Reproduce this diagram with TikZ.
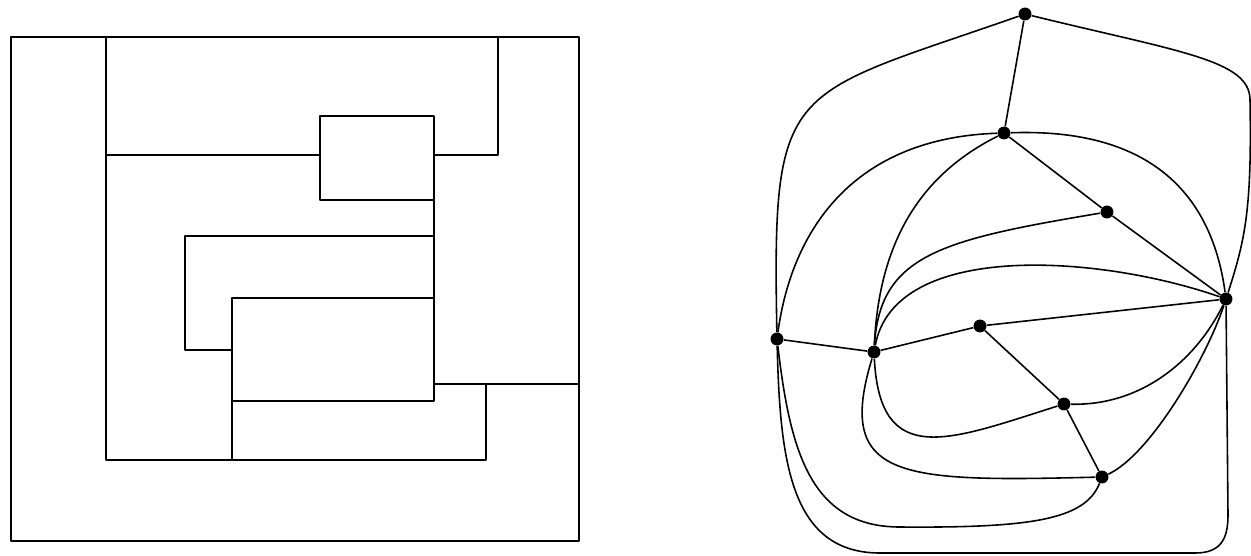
\documentclass[tikz,border=0pt]{standalone}
\begin{document}
\begin{tikzpicture}[x=0.02cm, y=-0.02cm, line join=round,
  wall/.style={line width=1.1pt},
  edge/.style={line width=0.9pt},
  dot/.style={circle,fill,inner sep=2.6pt}]
  \useasboundingbox (0,0) rectangle (1251,555);
  % the map
  \draw[wall] (11,37) rectangle (579,541);
  \draw[wall] (106,37) -- (106,460) -- (486,460) -- (486,384);
  \draw[wall] (434,384) -- (579,384);
  \draw[wall] (106,155) -- (320,155);
  \draw[wall] (320,116) rectangle (434,200);
  \draw[wall] (434,155) -- (498,155) -- (498,37);
  \draw[wall] (434,200) -- (434,298);
  \draw[wall] (434,236) -- (185,236) -- (185,350) -- (232,350);
  \draw[wall] (232,298) rectangle (434,401);
  \draw[wall] (232,401) -- (232,460);
  % its dual graph
  \node[dot] (A) at (1025,14) {};
  \node[dot] (B) at (1004,133) {};
  \node[dot] (C) at (1107,212) {};
  \node[dot] (D) at (1226,299) {};
  \node[dot] (E) at (777,339) {};
  \node[dot] (F) at (874,352) {};
  \node[dot] (G) at (980,326) {};
  \node[dot] (H) at (1064,404) {};
  \node[dot] (I) at (1102,477) {};
  \draw[edge] (A) -- (B);
  \draw[edge] (B) -- (C) -- (D);
  \draw[edge] (E) -- (F) -- (G) -- (D);
  \draw[edge] (G) -- (H) -- (I);
  \draw[edge] (A) .. controls (785,98) and (772,79) .. (E);
  \draw[edge] (A) .. controls (1180,52) and (1250,60) .. (1250,100)
    .. controls (1252,210) and (1245,240) .. (D);
  \draw[edge] (B) .. controls (854,138) and (792,229) .. (E);
  \draw[edge] (B) .. controls (920,175) and (879,242) .. (F);
  \draw[edge] (B) .. controls (1145,128) and (1211,189) .. (D);
  \draw[edge] (C) .. controls (940,240) and (880,255) .. (F);
  \draw[edge] (F) .. controls (895,240) and (1100,255) .. (D);
  \draw[edge] (F) .. controls (880,470) and (950,440) .. (H);
  \draw[edge] (H) .. controls (1140,406) and (1195,362) .. (D);
  \draw[edge] (F) .. controls (835,480) and (900,482) .. (I);
  \draw[edge] (I) .. controls (1150,455) and (1206,359) .. (D);
  \draw[edge] (E) .. controls (790,450) and (810,527) .. (900,527)
    .. controls (1030,528) and (1085,520) .. (I);
  \draw[edge] (E) .. controls (780,460) and (790,553) .. (880,553)
    -- (1195,553) .. controls (1220,553) and (1228,540) .. (1228,515) -- (D);
\end{tikzpicture}
\end{document}
